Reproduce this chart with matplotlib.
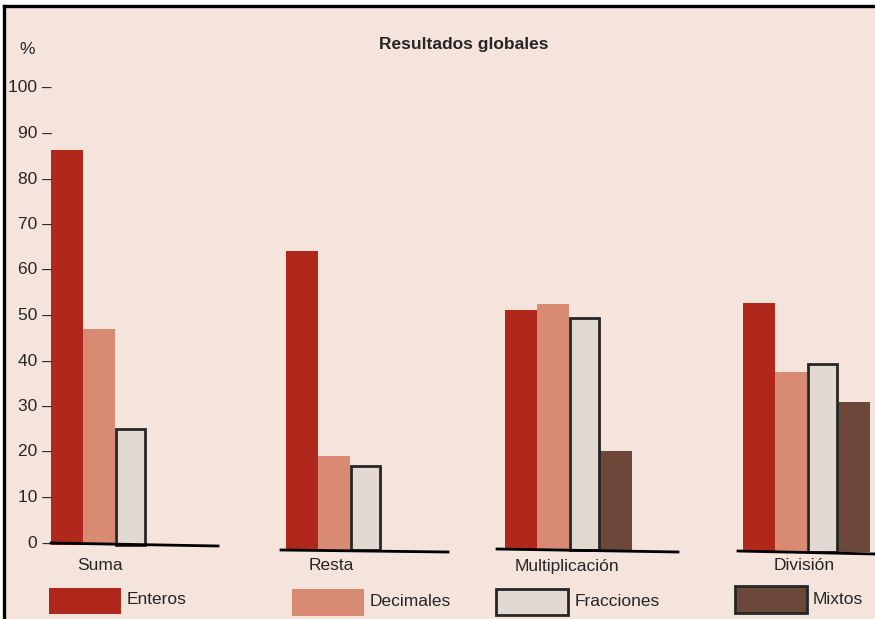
import matplotlib
matplotlib.use("Agg")
import matplotlib.pyplot as plt
from matplotlib import font_manager
from matplotlib.patches import Rectangle

# font: narrow sans if available
try:
    font_manager.findfont("Liberation Sans Narrow", fallback_to_default=False)
    FONT = "Liberation Sans Narrow"
    FS = 14.5
except Exception:
    FONT = "Liberation Sans"
    FS = 12.5
plt.rcParams["font.family"] = [FONT, "DejaVu Sans"]

# data
operaciones = ["Suma", "Resta", "Multiplicación", "División"]
series = ["Enteros", "Decimales", "Fracciones", "Mixtos"]
enteros = [86.4, 64.2, 51.2, 52.7]
decimales = [47.0, 19.1, 52.5, 37.6]
fracciones = [25.1, 16.9, 49.5, 39.3]
mixtos = [None, None, 20.2, 31.0]
yticks = [0, 10, 20, 30, 40, 50, 60, 70, 80, 90, 100]

colors = ["#b0271b", "#d88a72", "#e2d9d2", "#6b4839"]
edges = [None, None, "#262626", None]
bg = "#f5e4db"
txt = "#262626"

# layout (x in pixels, y in % units)
W, H = 875, 619
y0_px, y100_px = 543, 88
scale = (y0_px - y100_px) / 100.0


def v(px):
    return (y0_px - px) / scale


group_x = [51, 286, 505, 743]
bar_w = 31.8
base = [v(545), v(550), v(550), v(552)]
base_lines = [(51, 218, 543, 546), (281, 448, 550, 552),
              (497, 678, 549, 552), (738, 875, 551, 554)]

fig = plt.figure(figsize=(W / 100, H / 100), dpi=100)
fig.patch.set_facecolor("white")
fig.patches.append(Rectangle((4 / W, 0), 1, (H - 6) / H, transform=fig.transFigure,
                             facecolor=bg, edgecolor="none", zorder=-10))
fig.add_artist(plt.Line2D([4 / W, 4 / W], [0, (H - 6) / H], color="black", lw=2.4,
                          transform=fig.transFigure, zorder=5))
fig.add_artist(plt.Line2D([4 / W, 1], [(H - 6) / H, (H - 6) / H], color="black", lw=2.4,
                          transform=fig.transFigure, zorder=5))

ax = fig.add_axes([0, (H - y0_px) / H, 1, (y0_px - y100_px) / H])
ax.set_xlim(0, W)
ax.set_ylim(0, 100)
ax.axis("off")

data = [enteros, decimales, fracciones, mixtos]
for s, vals in enumerate(data):
    for g, val in enumerate(vals):
        if val is None:
            continue
        x = group_x[g] + s * bar_w
        if edges[s]:
            ax.bar(x + 1, val - base[g], bottom=base[g], width=bar_w - 2, align="edge",
                   color=colors[s], edgecolor=edges[s], linewidth=2.0, clip_on=False, zorder=3)
        else:
            ax.bar(x, val - base[g], bottom=base[g], width=bar_w, align="edge",
                   color=colors[s], linewidth=0, clip_on=False, zorder=2)

for x0, x1, p0, p1 in base_lines:
    ax.plot([x0, x1], [v(p0), v(p1)], color="black", lw=2.0, clip_on=False, zorder=4)

# y tick labels with dash
for t in yticks:
    ax.text(52, t, f"{t} –", ha="right", va="center", fontsize=FS, color=txt, clip_on=False)
ax.text(27, v(50), "%", ha="center", va="center", fontsize=FS, color=txt)
ax.text(464, v(45), "Resultados globales", ha="center", va="center",
        fontsize=FS, fontweight="bold", color=txt)

# group labels
label_x = [100, 331, 567, 804]
for name, lx in zip(operaciones, label_x):
    ax.text(lx, v(566), name, ha="center", va="center", fontsize=FS, color=txt, clip_on=False)

# legend
leg_boxes = [(49, 588, 614), (292, 589, 616), (496, 589, 615), (735, 586, 613)]
leg_text = [(127, 600), (370, 602), (575, 602), (813, 600)]
leg_edges = [None, None, "#262626", "#262626"]
for s, name in enumerate(series):
    x0, ptop, pbot = leg_boxes[s]
    r = Rectangle((x0, v(pbot)), 72, v(ptop) - v(pbot), facecolor=colors[s],
                  edgecolor=leg_edges[s] or "none", linewidth=2.0 if leg_edges[s] else 0,
                  clip_on=False, zorder=3)
    ax.add_patch(r)
    tx, ty = leg_text[s]
    ax.text(tx, v(ty), name, ha="left", va="center", fontsize=FS, color=txt, clip_on=False)

fig.savefig("out.png", dpi=100, facecolor=fig.get_facecolor())
